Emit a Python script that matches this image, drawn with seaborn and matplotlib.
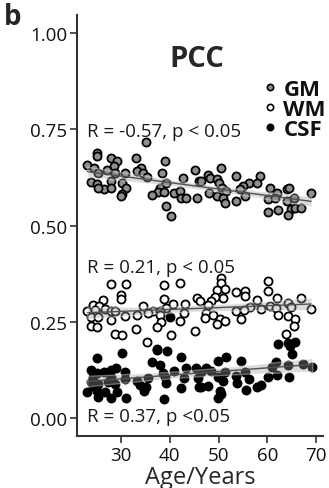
import matplotlib
matplotlib.use("Agg")
import matplotlib.pyplot as plt
import seaborn as sns
import pandas as pd
from matplotlib.lines import Line2D

# ---- data ----
gm_age = [35.2, 25.2, 25.2, 28.0, 29.2, 33.1, 39.1, 23.1, 24.5, 28.6, 27.2, 34.2, 33.3, 34.5,
          30.8, 28.7, 25.3, 35.3, 38.4, 45.2, 42.8, 45.9, 23.8, 25.2, 28.0, 30.2, 39.3, 26.5,
          28.0, 25.3, 31.1, 30.2, 30.1, 37.9, 37.6, 38.8, 36.3, 40.8, 42.1, 42.3, 43.4, 45.5,
          39.3, 40.2,
          50.4, 47.9, 48.2, 46.5, 49.6, 50.1, 53.5, 58.4, 56.2, 57.9, 55.0, 54.3, 50.8, 51.6,
          48.1, 49.6, 50.9, 51.3, 53.5, 55.4, 60.6, 62.0, 64.0, 64.4, 60.1, 61.5, 64.0, 65.4,
          69.0, 60.1, 62.2, 64.9, 65.6, 66.9, 64.2]
gm_val = [0.718, 0.690, 0.682, 0.675, 0.667, 0.675, 0.667, 0.657, 0.651, 0.655, 0.645, 0.651,
          0.641, 0.638, 0.636, 0.636, 0.636, 0.627, 0.636, 0.644, 0.623, 0.616, 0.614, 0.608,
          0.616, 0.612, 0.612, 0.595, 0.598, 0.597, 0.599, 0.582, 0.576, 0.597, 0.588, 0.588,
          0.579, 0.584, 0.590, 0.573, 0.573, 0.573, 0.551, 0.524,
          0.651, 0.631, 0.625, 0.616, 0.621, 0.612, 0.629, 0.628, 0.612, 0.610, 0.603, 0.595,
          0.599, 0.590, 0.584, 0.577, 0.571, 0.560, 0.563, 0.576, 0.597, 0.584, 0.595, 0.599,
          0.569, 0.571, 0.564, 0.571, 0.586, 0.536, 0.541, 0.543, 0.547, 0.545, 0.527]

wm_age = [28.0, 31.1, 38.8, 42.0, 30.1, 30.1, 38.8, 45.6, 26.3, 24.3, 25.6, 40.6, 43.1, 34.5,
          39.3, 23.1, 24.6, 26.8, 28.0, 28.8, 36.5, 38.1, 35.5, 33.3, 30.8, 37.9, 42.9, 23.9,
          25.3, 28.0, 38.2, 42.0, 23.9, 25.2, 37.4, 33.1, 45.2, 28.7, 30.2, 40.2, 35.4,
          50.4, 50.4, 60.1, 49.7, 51.3, 53.5, 55.4, 55.4, 60.1, 50.9, 49.2, 48.5, 57.8, 62.0,
          66.9, 64.2, 47.9, 64.9, 46.2, 56.4, 58.6, 60.5, 61.7, 69.0, 53.5, 55.2, 47.5, 48.9,
          47.2, 50.2, 51.3, 49.6, 54.5, 62.2, 64.2, 65.6, 65.4, 63.9]
wm_val = [0.348, 0.348, 0.346, 0.350, 0.320, 0.309, 0.309, 0.313, 0.306, 0.294, 0.292, 0.296,
          0.296, 0.292, 0.287, 0.279, 0.281, 0.283, 0.279, 0.277, 0.279, 0.277, 0.272, 0.268,
          0.266, 0.268, 0.272, 0.262, 0.263, 0.255, 0.249, 0.253, 0.240, 0.237, 0.237, 0.231,
          0.225, 0.218, 0.216, 0.216, 0.197,
          0.364, 0.350, 0.357, 0.332, 0.335, 0.327, 0.329, 0.318, 0.329, 0.312, 0.315, 0.305,
          0.306, 0.312, 0.313, 0.300, 0.294, 0.289, 0.305, 0.289, 0.283, 0.292, 0.286, 0.283,
          0.279, 0.281, 0.274, 0.268, 0.260, 0.257, 0.251, 0.244, 0.257, 0.268, 0.266, 0.257,
          0.240, 0.218]

csf_age = [25.2, 30.3, 37.4, 39.4, 42.2, 36.3, 37.9, 23.8, 26.5, 28.0, 29.0, 25.2, 30.8, 38.6,
           40.8, 43.4, 45.4, 24.3, 28.0, 30.8, 33.3, 35.5, 39.1, 43.0, 23.9, 25.4, 27.3, 28.8,
           34.0, 39.3, 45.7, 23.1, 25.2, 26.7, 29.2, 25.4, 28.0, 31.1, 34.7, 35.2, 38.9, 42.3,
           45.9, 24.3, 40.0, 37.3,
           62.2, 64.2, 65.6, 64.7, 65.1, 51.6, 49.9, 54.5, 61.7, 47.5, 48.5, 51.3, 46.5, 55.4,
           61.0, 64.2, 67.2, 69.2, 53.5, 56.2, 60.1, 62.0, 64.4, 49.9, 50.9, 46.5, 47.9, 53.7,
           50.2, 55.6, 57.9, 58.6, 49.9, 50.4]
csf_val = [0.155, 0.169, 0.177, 0.175, 0.160, 0.145, 0.138, 0.126, 0.120, 0.126, 0.129, 0.117,
           0.120, 0.117, 0.123, 0.129, 0.129, 0.108, 0.106, 0.101, 0.097, 0.103, 0.108, 0.103,
           0.093, 0.088, 0.094, 0.088, 0.086, 0.091, 0.103, 0.067, 0.071, 0.067, 0.068, 0.054,
           0.051, 0.051, 0.071, 0.080, 0.049, 0.077, 0.080, 0.084, 0.262, 0.179,
           0.192, 0.195, 0.197, 0.188, 0.166, 0.158, 0.149, 0.149, 0.145, 0.129, 0.123, 0.119,
           0.120, 0.120, 0.134, 0.138, 0.140, 0.134, 0.110, 0.101, 0.108, 0.112, 0.106, 0.106,
           0.097, 0.080, 0.084, 0.091, 0.071, 0.074, 0.080, 0.086, 0.051, 0.062]

tissues = ["GM", "WM", "CSF"]
fills = {"GM": "#8f8f8f", "WM": "#ffffff", "CSF": "#000000"}
annotations = ["R = -0.57, p < 0.05", "R = 0.21, p < 0.05", "R = 0.37, p <0.05"]
annot_y = [0.747, 0.393, 0.005]
x_ticks = [30, 40, 50, 60, 70]
y_ticks = [0.00, 0.25, 0.50, 0.75, 1.00]

series = {"GM": (gm_age, gm_val), "WM": (wm_age, wm_val), "CSF": (csf_age, csf_val)}

sns.set_theme(style="ticks")
plt.rcParams["font.family"] = ["Open Sans", "DejaVu Sans"]

fig = plt.figure(figsize=(3.29, 4.89), dpi=100)
ax = fig.add_axes([0.234, 0.106, 0.748, 0.861])

for t in tissues:
    a, v = series[t]
    df = pd.DataFrame({"age": a, "val": v})
    sns.scatterplot(data=df, x="age", y="val", ax=ax, color=fills[t], edgecolor="black",
                    linewidth=1.3, s=34, zorder=2, legend=False)
for t in tissues:
    a, v = series[t]
    df = pd.DataFrame({"age": a, "val": v})
    sns.regplot(data=df, x="age", y="val", ax=ax, scatter=False, ci=95, truncate=True,
                color="#2a2a2a", line_kws={"linewidth": 1.0, "zorder": 3})
for coll in ax.collections:
    if coll.get_zorder() < 2:
        coll.set_zorder(3)
        coll.set_facecolor("#9a9a9a")
        coll.set_alpha(0.35)

for txt, y in zip(annotations, annot_y):
    ax.text(23.0, y, txt, fontsize=13.5, ha="left", va="center", color="#1a1a1a", zorder=5)

ax.text(45.6, 0.935, "PCC", fontsize=21, fontweight="bold", ha="center", va="center")

handles = [Line2D([], [], marker="o", linestyle="", markerfacecolor=fills[t],
                  markeredgecolor="black", markeredgewidth=1.2, markersize=4.5) for t in tissues]
leg = ax.legend(handles, tissues, loc="upper right", bbox_to_anchor=(1.075, 0.885),
                frameon=False, handletextpad=0.15, labelspacing=-0.05, handlelength=0.9,
                borderpad=0.2, prop={"weight": "bold", "size": 16})
for txt in leg.get_texts():
    txt.set_color("#111111")

ax.set_xlim(21, 71.4)
ax.set_ylim(-0.047, 1.047)
ax.set_xticks(x_ticks)
ax.set_yticks(y_ticks)
ax.set_yticklabels([f"{v:.2f}" for v in y_ticks])
ax.set_xlabel("Age/Years", fontsize=17, labelpad=1)
ax.set_ylabel("")
ax.tick_params(axis="both", labelsize=13.5, length=5, width=1.2, color="#333333",
               labelcolor="#111111", pad=2)
sns.despine(ax=ax)
for s in ["left", "bottom"]:
    ax.spines[s].set_linewidth(1.5)
    ax.spines[s].set_color("#333333")

fig.text(0.012, 0.965, "b", fontsize=20, fontweight="bold", ha="left", va="center")

fig.savefig("out.png", dpi=100)
